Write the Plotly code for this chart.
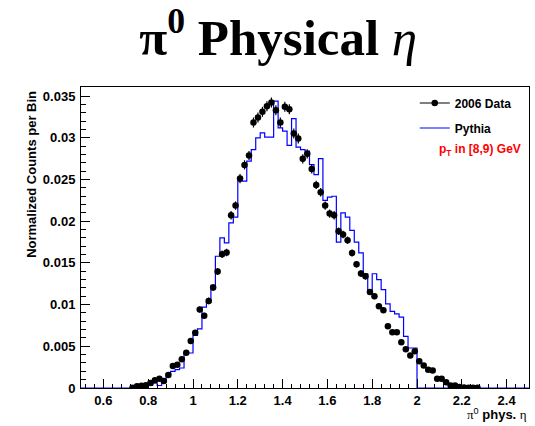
import numpy as np
import plotly.graph_objects as go

# ---------------- data ----------------
bin_width = 0.02
data_first_center = 0.73
data_values = [
    0.00004, 0.0002, 0.00028, 0.00032, 0.0006, 0.00092, 0.0011, 0.00085, 0.00155, 0.00264,
    0.0028, 0.00344, 0.00424, 0.00564, 0.00664, 0.0094, 0.00868, 0.01044, 0.01204, 0.01396,
    0.01604, 0.01624, 0.02072, 0.02188, 0.02512, 0.02676, 0.02788, 0.03184, 0.03244, 0.03312,
    0.0338, 0.03424, 0.03332, 0.03184, 0.03372, 0.03344, 0.03052, 0.02992, 0.02748, 0.02808,
    0.02628, 0.02436, 0.02348, 0.02188, 0.02092, 0.02072, 0.0188, 0.0184, 0.01772, 0.0162,
    0.01484, 0.01372, 0.0134, 0.01152, 0.011, 0.0098, 0.00932, 0.0074, 0.00668, 0.00668,
    0.0055, 0.00466, 0.0039, 0.0044, 0.0032, 0.0027, 0.0022, 0.0021, 0.0011, 0.0011,
    0.0007, 0.0003, 0.0003, 0.00012, 0.00005, 0.00002, 0.00002, 0.00002,
]
data_errors = [
    0.00005, 0.0001, 0.0001, 0.0001, 0.0001, 0.00012, 0.00013, 0.00012, 0.00015, 0.0002,
    0.0002, 0.0002, 0.00025, 0.00028, 0.0003, 0.00035, 0.00035, 0.0004, 0.0004, 0.00042,
    0.00045, 0.00045, 0.0005, 0.0005, 0.00055, 0.00055, 0.00055, 0.0006, 0.0006, 0.0006,
    0.0006, 0.0006, 0.0006, 0.0006, 0.0006, 0.0006, 0.0006, 0.0006, 0.00055, 0.00055,
    0.00055, 0.0005, 0.0005, 0.0005, 0.0005, 0.0005, 0.00045, 0.00045, 0.00045, 0.00042,
    0.0004, 0.0004, 0.0004, 0.00035, 0.00035, 0.00033, 0.00032, 0.0003, 0.00028, 0.00028,
    0.00025, 0.00023, 0.0002, 0.0002, 0.00018, 0.00016, 0.00015, 0.00015, 0.00012, 0.00012,
    0.0001, 0.00008, 0.00008, 0.00005, 0.00004, 0.00003, 0.00003, 0.00003,
]

pythia_first_low_edge = 0.78
pythia_values = [
    0.0001, 0.0003, 0.0006, 0.0003, 0.0010, 0.0017, 0.0020, 0.0022, 0.0024, 0.0042,
    0.0042, 0.0063, 0.0071, 0.0097, 0.0103, 0.0123, 0.0158, 0.0180, 0.0174, 0.0198,
    0.0205, 0.0248, 0.0248, 0.0272, 0.0286, 0.0300, 0.0306, 0.0301, 0.0301, 0.0344,
    0.0312, 0.0308, 0.0291, 0.0323, 0.0289, 0.0286, 0.0284, 0.0268, 0.0256, 0.0275,
    0.0225, 0.0229, 0.0230, 0.0175, 0.0210, 0.0205, 0.0189, 0.0175, 0.0162, 0.0137,
    0.0116, 0.0137, 0.0130, 0.0118, 0.0101, 0.0092, 0.0089, 0.0085, 0.0062, 0.0048,
    0.0048,
]

x_range = [0.5, 2.5]
y_range = [0, 0.0361]
x_ticks = [0.6, 0.8, 1.0, 1.2, 1.4, 1.6, 1.8, 2.0, 2.2, 2.4]
x_tick_labels = ["0.6", "0.8", "1", "1.2", "1.4", "1.6", "1.8", "2", "2.2", "2.4"]
y_ticks = [0, 0.005, 0.01, 0.015, 0.02, 0.025, 0.03, 0.035]
y_tick_labels = ["0", "0.005", "0.01", "0.015", "0.02", "0.025", "0.03", "0.035"]

# ---------------- derived bin positions ----------------
data_x = np.round(data_first_center + bin_width * np.arange(len(data_values)), 4)
pyth_low = np.round(pythia_first_low_edge + bin_width * np.arange(len(pythia_values)), 4)
pyth_high_end = round(float(pyth_low[-1]) + bin_width, 4)
step_x = [x_range[0]] + list(pyth_low) + [pyth_high_end, x_range[1]]
step_y = [0] + list(pythia_values) + [0, 0]

SANS = "Liberation Sans, Arial, Helvetica, sans-serif"
SERIF = "Liberation Serif, Times New Roman, serif"

fig = go.Figure()

fig.add_trace(go.Scatter(
    x=step_x, y=step_y, mode="lines", line=dict(color="#0000ff", width=1.2, shape="hv"),
    name="Pythia", showlegend=False, hoverinfo="skip",
))

fig.add_trace(go.Scatter(
    x=data_x, y=data_values, mode="markers",
    marker=dict(color="black", size=6.5, symbol="circle"),
    error_y=dict(type="data", array=data_errors, color="black", thickness=1.2, width=0),
    name="2006 Data", showlegend=False,
))

# legend entries
fig.add_trace(go.Scatter(
    x=[None], y=[None], mode="lines+markers",
    line=dict(color="black", width=1.2), marker=dict(color="black", size=6.5),
    name="2006 Data", legendgroup="a",
))
fig.add_trace(go.Scatter(
    x=[None], y=[None], mode="lines", line=dict(color="#0000ff", width=1.2),
    name="Pythia", legendgroup="b",
))

axis_common = dict(
    showgrid=False, zeroline=False, showline=True, linecolor="black", linewidth=1,
    mirror=True, ticks="inside", tickcolor="black", tickwidth=1,
    tickfont=dict(family=SANS, size=13, color="black", weight="bold"),
)

fig.update_xaxes(
    range=x_range, tickvals=x_ticks, ticktext=x_tick_labels, ticklen=9,
    minor=dict(dtick=0.04, tick0=0, ticks="inside", ticklen=4, tickcolor="black"),
    **axis_common,
)
fig.update_yaxes(
    range=y_range, tickvals=y_ticks, ticktext=y_tick_labels, ticklen=9,
    minor=dict(dtick=0.001, tick0=0, ticks="inside", ticklen=5, tickcolor="black"),
    ticklabelstandoff=2,
    **axis_common,
)

fig.update_layout(
    width=535, height=426,
    margin=dict(l=81, r=6, t=87, b=38),
    paper_bgcolor="white", plot_bgcolor="white",
    title=dict(
        text="<b>π<sup>0</sup> Physical</b> <i>η</i>",
        font=dict(family=SERIF, size=51, color="black"),
        x=0.52, xanchor="center", xref="container",
        y=0.955, yanchor="top", yref="container",
    ),
    legend=dict(
        x=0.745, y=0.995, xanchor="left", yanchor="top",
        bgcolor="rgba(0,0,0,0)", borderwidth=0,
        font=dict(family=SANS, size=12, color="black", weight="bold"),
        tracegroupgap=6,
    ),
    annotations=[
        dict(
            text="p<sub>T</sub> in [8,9) GeV", x=0.795, y=0.79, xref="paper", yref="paper",
            xanchor="left", yanchor="middle", showarrow=False,
            font=dict(family=SANS, size=12, color="red", weight="bold"),
        ),
        dict(
            text="Normalized Counts per Bin", x=-0.112, y=0.995, xref="paper", yref="paper",
            xanchor="center", yanchor="top", textangle=-90, showarrow=False,
            font=dict(family=SANS, size=13, color="black", weight="bold"),
        ),
        dict(
            text="<span style='font-family:Liberation Serif'>π</span><sup>0</sup> <b>phys.</b> <span style='font-family:Liberation Serif'>η</span>",
            x=1.0, y=-0.088, xref="paper", yref="paper",
            xanchor="right", yanchor="middle", showarrow=False,
            font=dict(family=SANS, size=13, color="black"),
        ),
    ],
)

fig.write_html("out.html", config={"displayModeBar": False},
               post_script="document.body.style.margin='0';")
